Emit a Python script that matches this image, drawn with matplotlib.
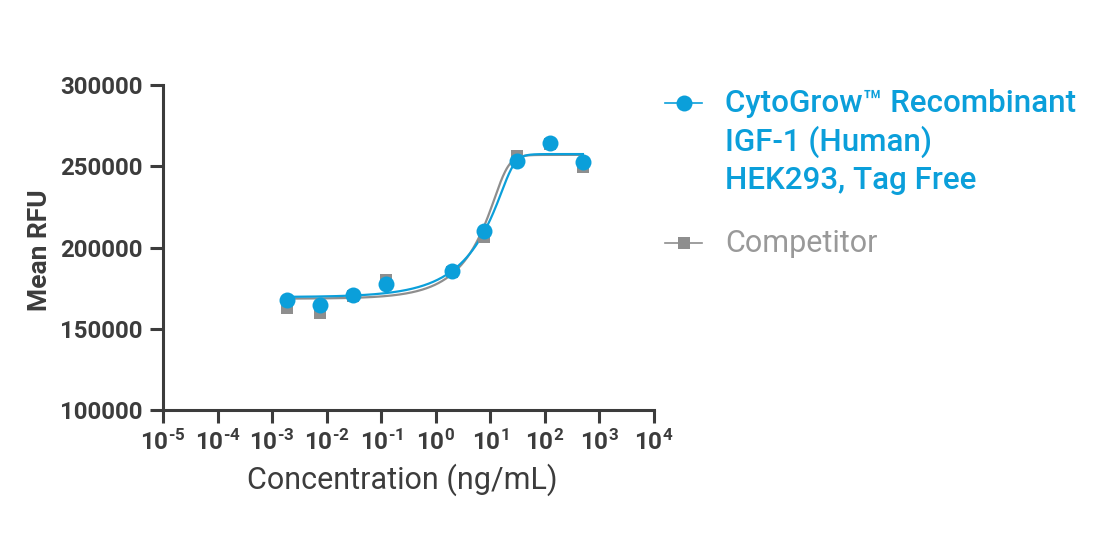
import numpy as np
import matplotlib
matplotlib.use("Agg")
import matplotlib.pyplot as plt
from matplotlib.lines import Line2D

plt.rcParams['font.family'] = ['Roboto', 'DejaVu Sans']
plt.rcParams['mathtext.fontset'] = 'custom'
plt.rcParams['mathtext.rm'] = 'Roboto:bold'
plt.rcParams['mathtext.bf'] = 'Roboto:bold'

# data (4-fold dilutions, ng/mL)
conc = [0.0019, 0.0076, 0.0305, 0.122, 1.95, 7.81, 31.25, 125, 500]
cytogrow = [167700, 164600, 170800, 177500, 185500, 210200, 253200, 264300, 252600]
competitor = [162800, 159700, 170000, 179800, 185000, 206500, 256600, 263500, 249800]

# 5PL fit params: bottom, top, c, hill, asym
fit_cyto = [169500, 257500, 24.7, 4.5, 0.15]
fit_comp = [168500, 257000, 18.0, 4.0, 0.20]

blue = '#0b9fda'
grey = '#8e8e8e'
dark = '#3c3c3c'


def curve(x, p):
    b, t, c, h, s = p
    return b + (t - b) / (1 + (c / x) ** h) ** s


fig = plt.figure(figsize=(11.04, 5.34), dpi=100)
ax = fig.add_axes([0.1476, 0.2322, 0.4447, 0.6086])

xx = np.logspace(np.log10(conc[0]), np.log10(conc[-1]), 400)
ax.plot(xx, curve(xx, fit_comp), color=grey, lw=1.6, zorder=2)
ax.plot(xx, curve(xx, fit_cyto), color=blue, lw=1.6, zorder=3)
ax.plot(conc, competitor, 's', color=grey, ms=8.5, mew=0, zorder=4)
ax.plot(conc, cytogrow, 'o', color=blue, ms=11.5, mew=0, zorder=5)

ax.set_xscale('log')
ax.set_xlim(1e-5, 1e4)
ax.set_ylim(100000, 300000)
ax.set_xticks([10.0 ** k for k in range(-5, 5)])
ax.set_xticklabels([r'$\mathbf{10^{%s}}$' % (r'\text{-}%d' % -k if k < 0 else str(k))
                    for k in range(-5, 5)])
ax.minorticks_off()
ax.set_yticks(range(100000, 300001, 50000))
ax.set_yticklabels([str(v) for v in range(100000, 300001, 50000)])

for sp in ['top', 'right']:
    ax.spines[sp].set_visible(False)
for sp in ['left', 'bottom']:
    ax.spines[sp].set_color(dark)
    ax.spines[sp].set_linewidth(2.2)
ax.tick_params(axis='both', direction='out', length=9.5, width=2.2, color=dark,
               labelcolor=dark, pad=5)
for lab in ax.get_yticklabels():
    lab.set_fontsize(17.3)
    lab.set_fontweight('bold')
for lab in ax.get_xticklabels():
    lab.set_fontsize(17.5)

ax.set_xlabel('Concentration (ng/mL)', fontsize=22, color=dark)
ax.set_ylabel('Mean RFU', fontsize=19, fontweight='bold', color=dark)
ax.xaxis.set_label_coords(0.487, -0.165)
ax.yaxis.set_label_coords(-0.226, 0.493)

# legend drawn by hand, pixel positions
def fx(px):
    return px / 1104


def fy(py):
    return 1 - py / 534


fig.add_artist(Line2D([fx(665), fx(702)], [fy(103), fy(103)], color=blue, lw=1.2,
                      transform=fig.transFigure))
fig.add_artist(Line2D([fx(683.5)], [fy(103)], color=blue, marker='o', ms=11.5, mew=0,
                      transform=fig.transFigure))
fig.text(fx(725), fy(89), 'CytoGrow\u2122 Recombinant\nIGF-1 (Human)\nHEK293, Tag Free',
         color=blue, fontsize=22.6, fontweight='medium', va='top', ha='left',
         linespacing=1.32, transform=fig.transFigure)

fig.add_artist(Line2D([fx(665), fx(702)], [fy(243), fy(243)], color=grey, lw=1.2,
                      transform=fig.transFigure))
fig.add_artist(Line2D([fx(683.5)], [fy(243)], color=grey, marker='s', ms=8.5, mew=0,
                      transform=fig.transFigure))
fig.text(fx(725), fy(243), 'Competitor', color='#999999', fontsize=22,
         va='center', ha='left', transform=fig.transFigure)

fig.savefig('out.png', dpi=100)
